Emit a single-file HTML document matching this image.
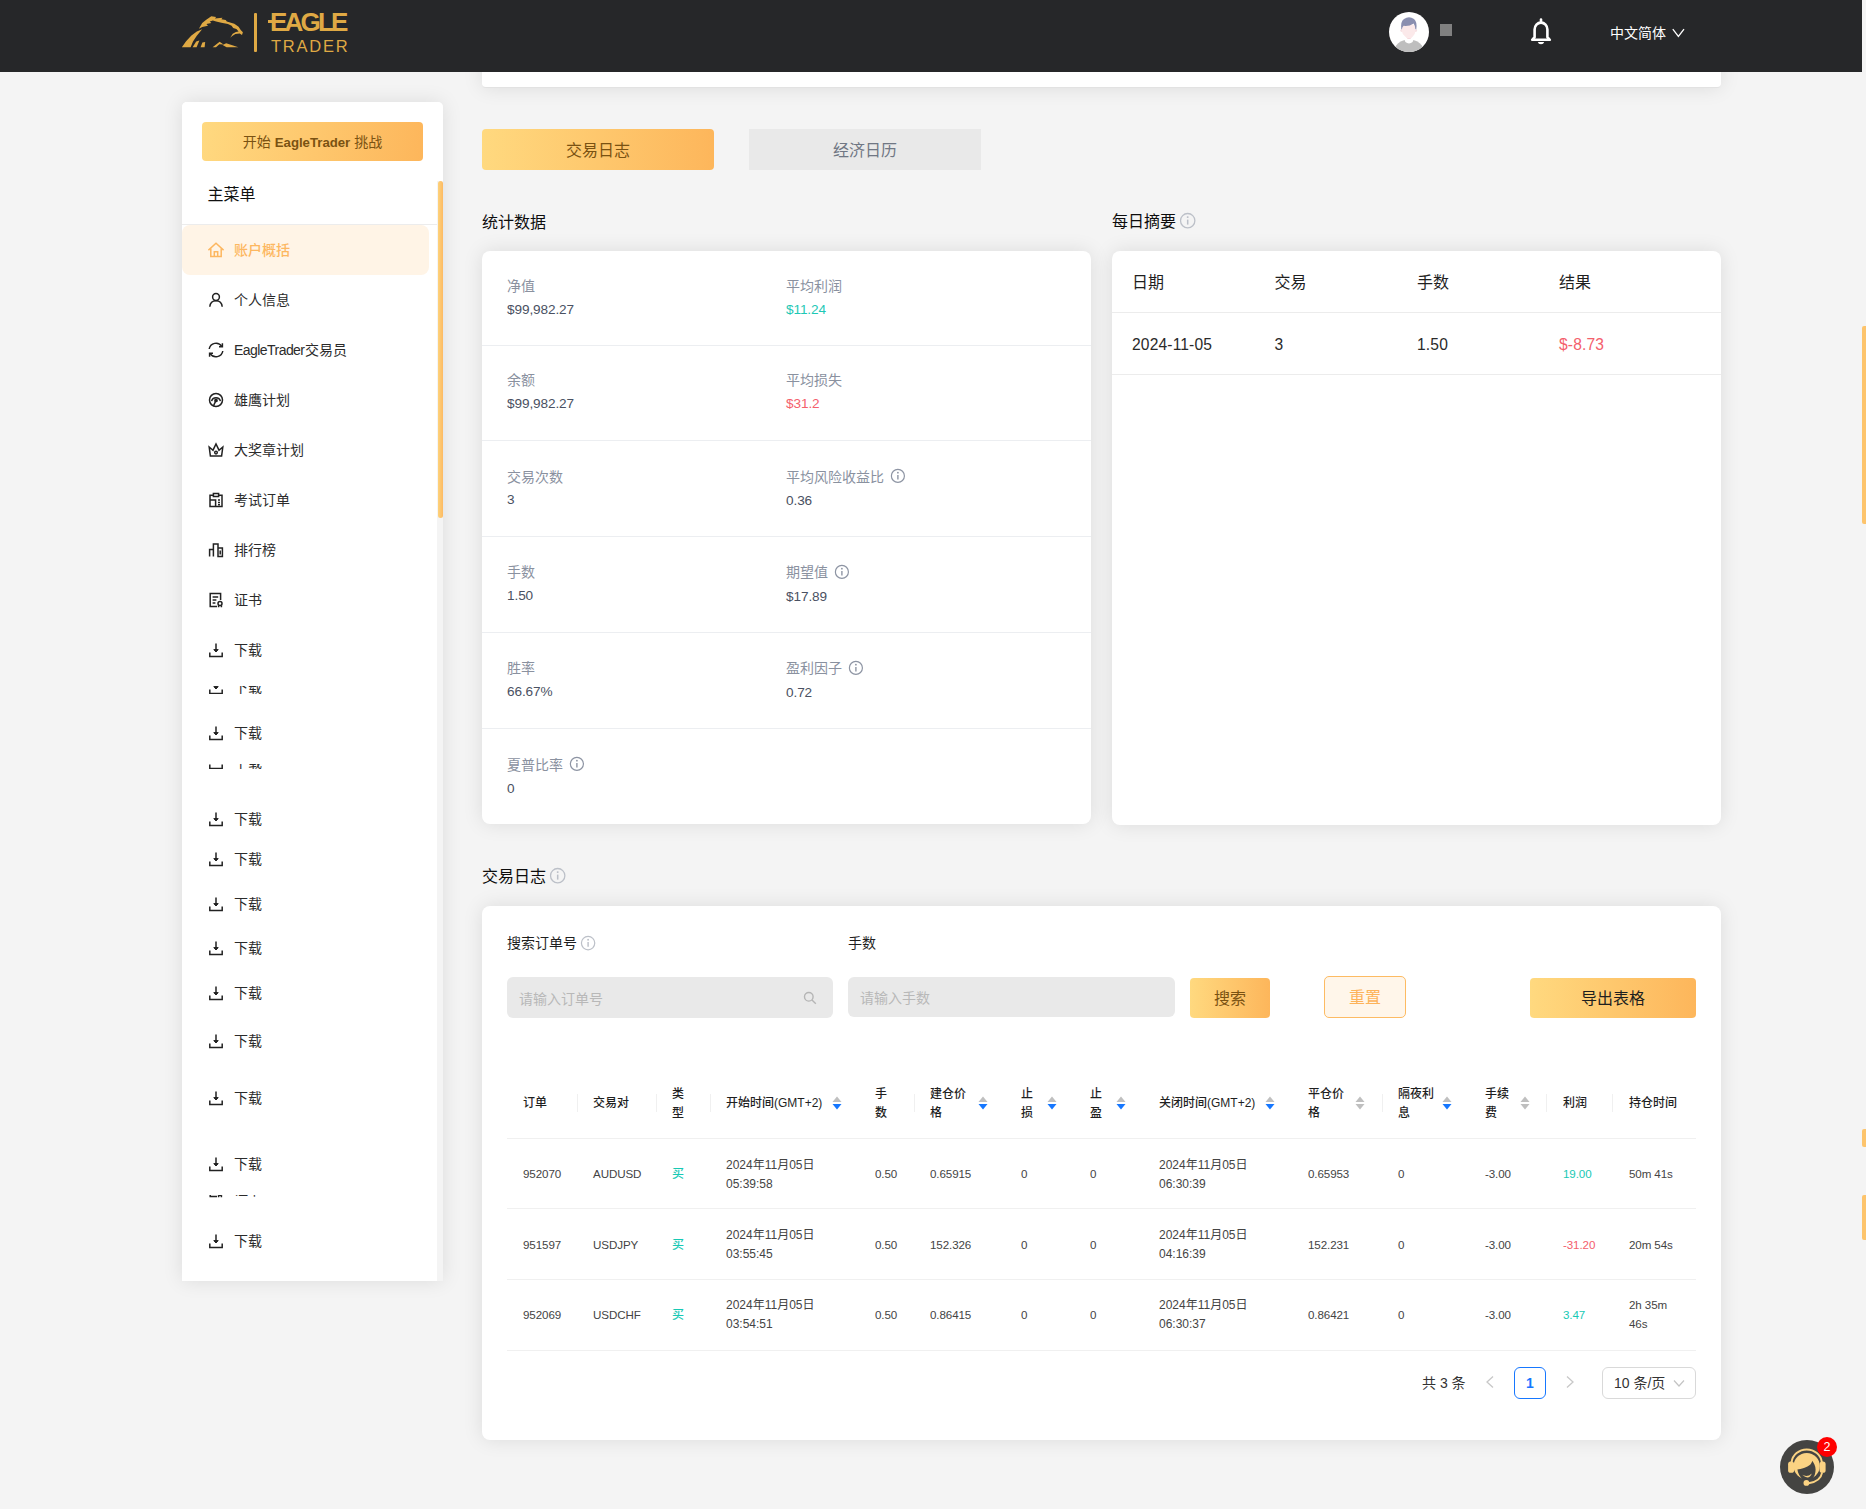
<!DOCTYPE html>
<html lang="zh-CN">
<head>
<meta charset="utf-8">
<title>EagleTrader</title>
<style>
*{box-sizing:border-box;margin:0;padding:0}
html,body{width:1866px;height:1509px;overflow:hidden}
body{position:relative;background:#f4f4f4;font-family:"Liberation Sans","Noto Sans CJK SC",sans-serif;font-size:14px;color:#333;-webkit-font-smoothing:antialiased}
.abs{position:absolute}
/* header */
#hdr{position:absolute;left:0;top:0;width:1862px;height:72px;background:#262729}
#hdr .lang{position:absolute;left:1610px;top:23px;height:20px;line-height:20px;color:#fff;font-size:14px;white-space:nowrap}
/* cards */
.card{position:absolute;background:#fff;border-radius:8px;box-shadow:0 0 20px rgba(0,0,0,.1)}
.h16{position:absolute;font-size:16px;line-height:24px;color:#0d0d0d;white-space:nowrap}
.info{display:inline-block;vertical-align:middle;color:#b3b8c2}

#side{position:absolute;left:182px;top:102px;width:261px;height:1179px}
#side .sidebg{position:absolute;left:0;top:0;width:261px;height:1179px;border-radius:5px 5px 0 0;box-shadow:0 0 20px rgba(0,0,0,.1);background:linear-gradient(90deg,#fff 255px,#f4f4f4 255px);}
#side .sidebg:after{content:"";position:absolute;left:0;top:0;width:261px;height:79px;background:#fff;border-radius:5px 5px 0 0}
.startbtn{position:absolute;left:20px;top:20px;width:221px;height:39px;line-height:41px;text-align:center;border-radius:4px;background:linear-gradient(100deg,#ffd980,#fdb65b);color:#7a5212;font-size:14px;white-space:nowrap}
.startbtn b{font-weight:bold;font-size:13.2px}
.m{position:absolute;left:0;width:255px;height:50px;line-height:50px;font-size:14px;color:#2b2b2b;white-space:nowrap}
.m .mi{position:absolute;left:26px;top:17px}
.m span{position:absolute;left:52px;top:0}
.m.act{color:#fdb760;font-weight:500}
.m em{font-style:normal;letter-spacing:-0.55px;margin-right:0.5px}

.tab{position:absolute;top:129px;width:232px;height:41px;line-height:44px;text-align:center;font-size:16px;white-space:nowrap}
.tab.on{background:linear-gradient(90deg,#ffd97f,#fdb65b);color:#7a5212;border-radius:4px}
.tab.off{background:#e9e9e9;color:#707784}
.srow{position:absolute;left:0;width:609px;box-sizing:content-box}
.sl{position:absolute;font-size:14px;line-height:22px;color:#8a919f;white-space:nowrap}
.sl .info{margin-left:2px;position:relative;top:-1.5px}
.sv{position:absolute;font-size:13.6px;line-height:22px;color:#4a5162;white-space:nowrap;letter-spacing:-0.1px}
.sv.g{color:#1ec8b5}.sv.r{color:#f4606c}
.drow{position:absolute;left:0;width:609px;font-size:16px;color:#1f1f1f}
.drow span{position:absolute;top:1px;line-height:62px;white-space:nowrap}
.drow span.n{letter-spacing:0.15px;color:#2a2a2a;font-size:15.6px}

.lb{font-size:14px;line-height:22px;color:#1f1f1f;white-space:nowrap}
.inp{position:absolute;background:#e9e9e9;border-radius:6px}
.inp span{position:absolute;left:12px;top:0;bottom:0;display:flex;align-items:center;font-size:14px;color:#b8b8b8;white-space:nowrap}
.btn{position:absolute;text-align:center;font-size:16px;border-radius:4px;white-space:nowrap}
.btn.gold{background:linear-gradient(90deg,#ffd97f,#fdb65b);color:#7a5212}
.btn.gold.dark{color:#1f1f1f}
.btn.ghost{background:#fff6ea;border:1px solid #fdbb63;color:#fdb35a;border-radius:5px}
.tb{border-collapse:separate;border-spacing:0;table-layout:fixed;width:1189px;font-size:12px;line-height:18.857px;color:#333}
.tb th,.tb td{padding:0 16px;text-align:left;vertical-align:middle;border-bottom:1px solid #f0f0f0;height:71px;font-weight:normal}
.tb tbody tr:first-child td{height:70px}
.tb tbody tr:last-child td{padding-top:0}
.tb th{font-weight:500;color:#1f1f1f;position:relative;padding-top:1.5px}
.tb th i{font-style:normal;font-weight:normal}
.tb th.dv:after{content:"";position:absolute;right:-1px;top:25.5px;width:1px;height:18.5px;background:#f0f0f0}
.tb th.d0:after{right:0}
.thw{display:flex;align-items:center;justify-content:space-between}
.thw .tt{flex:1 1 auto}
.sorter{flex:0 0 auto;margin-left:3px;margin-right:1px;position:relative;top:-0.5px}
.tb td{color:#444;letter-spacing:-0.1px;font-size:11.6px;padding-top:2px}
.tb td.dt{font-size:12px;letter-spacing:0}
.tb td.g{color:#17c9b4}.tb td.r{color:#f4606c}
.tb td.cn{letter-spacing:0;font-size:12px;font-weight:500}
.pg{font-size:14px;color:#333;white-space:nowrap}
/* main scrollbar bits */
.sb{position:absolute;left:1862px;width:4px;background:#fdc46c;border-radius:2px 0 0 2px}
</style>
</head>
<body>
<!-- top partial card -->
<div class="card" style="left:482px;top:60px;width:1239px;height:28px;border-radius:0 0 4px 4px;border-bottom:1px solid #e2e2e2"></div>

<!-- HEADER -->
<div id="hdr">
  <svg class="abs" style="left:182px;top:16px" width="62" height="32" viewBox="0 0 62 32" fill="#dfa944">
    <path d="M-0.2,31.2 L4.1,25.3 L9.4,19.4 L14.8,15.6 L20.2,13.2 L18.5,15.3 L14.8,19.7 L11.0,25.6 L8.6,31.2 Z"/>
    <path d="M16.9,12.8 L20.2,7.1 L23.9,3.9 L29.3,0.3 L34.1,1.0 L33.0,2.5 L40.5,1.7 L39.4,3.3 L43.7,3.9 L44.8,5.5 L52.3,7.8 L56.6,10.8 L58.7,14.0 L60.9,16.2 L60.0,18.9 L57.7,17.5 L53.4,18.1 L50.2,19.9 L48.2,21.8 L50.7,17.8 L53.9,16.0 L56.6,15.6 L54.4,13.0 L51.2,12.1 L49.6,9.8 L45.9,8.1 L39.4,6.8 L34.1,5.5 L30.9,4.4 L27.7,5.5 L29.3,7.1 L24.4,8.1 L26.0,9.8 L20.2,11.0 Z"/>
    <path d="M10.6,31.3 L14.2,25.4 L17.4,24.4 L14.6,31.3 Z"/>
    <path d="M18.6,31.3 L20.4,26.6 L23.2,26 L22.6,31.3 Z"/>
    <path d="M30.6,31.3 L37.6,25.8 L41.6,28.4 L37.4,28.2 L34,31.3 Z"/>
    <path d="M40.6,29 L44.2,27.2 L56.4,31.3 L44.6,31.3 Z"/>
  </svg>
  <div class="abs" style="left:254px;top:13px;width:3px;height:39px;background:#dfa944;border-radius:1px"></div>
  <div class="abs" style="left:268px;top:19.5px;width:6px;height:3px;background:#dfa944"></div>
  <div class="abs" id="lg1" style="left:270px;top:7px;height:30px;line-height:30px;font-size:26px;font-weight:bold;color:#dfa944;letter-spacing:-2.8px;white-space:nowrap">EAGLE</div>
  <div class="abs" id="lg2" style="left:271px;top:36px;height:20px;line-height:20px;font-size:16.5px;color:#dfa944;letter-spacing:1.75px;white-space:nowrap">TRADER</div>
  <svg class="abs" style="left:1389px;top:12px" width="40" height="40" viewBox="0 0 40 40">
    <defs><clipPath id="avc"><circle cx="20" cy="20" r="20"/></clipPath></defs>
    <circle cx="20" cy="20" r="20" fill="#fff"/>
    <g clip-path="url(#avc)">
      <ellipse cx="20" cy="40.2" rx="15.2" ry="12.6" fill="#bebebe"/>
      <path d="M15.7,24 V27.6 Q15.7,31.4 20,31.4 Q24.3,31.4 24.3,27.6 V24 Z" fill="#fff"/>
      <circle cx="12.7" cy="18.6" r="1.4" fill="#f6e0e3"/><circle cx="26.7" cy="18.6" r="1.4" fill="#f6e0e3"/>
      <path d="M12.9,15 Q12.9,12 20,12 Q26.4,12 26.4,15 V19 Q26.4,22 23.6,24.8 Q20,28.6 16.4,24.8 Q12.9,22 12.9,19 Z" fill="#fbe9ea"/>
      <path d="M17.4,25.4 Q20,27.4 22.6,25.4 Q20,28.8 17.4,25.4Z" fill="#f0c4cb"/>
      <path d="M12.3,17.4 Q11.4,9 15,6.9 Q20,3.8 25,6.9 Q28.4,9.5 27.3,17.4 L26.3,17 Q26.2,13.4 24.6,11.4 Q20,14.6 14.6,13.8 Q13.1,15 13,17 Z" fill="#8a8fb0"/>
    </g>
  </svg>
  <div class="abs" style="left:1440px;top:24px;width:12px;height:12px;background:#808080"></div>
  <svg class="abs" style="left:1528px;top:17px" width="26" height="29" viewBox="0 0 26 29" fill="none" stroke="#fff" stroke-width="2.6" stroke-linecap="round" stroke-linejoin="round">
    <path d="M13,2.6 v1.6"/>
    <path d="M6.6,20.2 V12.6 a6.4,7 0 0 1 12.8,0 V20.2 l2.4,2.6 H4.2 z"/>
    <path d="M9.8,25 a3.3,3 0 0 0 6.4,0 z" fill="#fff" stroke="none"/>
  </svg>
  <div class="lang">中文简体</div>
  <svg class="abs" style="left:1672px;top:28px" width="13" height="10" viewBox="0 0 13 10" fill="none" stroke="#fff" stroke-width="1.3"><path d="M0.8,1.2 L6.4,8.4 L12,1.2"/></svg>
</div>

<div id="side">
<div class="sidebg"></div>
<div class="startbtn">开始 <b>EagleTrader</b> 挑战</div>
<div class="h16" style="left:25.6px;top:81.2px;color:#111">主菜单</div>
<div class="abs" style="left:0;top:122px;width:255px;height:1px;background:#ececec"></div>
<div class="abs" style="left:0;top:122.6px;width:247px;height:50.4px;background:#fff4e6;border-radius:8px"></div>
<div class="abs" style="left:256px;top:79px;width:5px;height:337px;background:linear-gradient(90deg,#fdd27c,#fdba62);border-radius:3px"></div>
<div class="m act" style="top:123px"><svg class="mi" width="16" height="16" viewBox="0 0 16 16" fill="none" stroke="currentColor" stroke-width="1.5" stroke-linejoin="miter" style="color:#fdb760"><path d="M0.4,8.2 L8,1.2 L15.6,8.2"/><path d="M2.8,6.4 V14.6 H13.2 V6.4"/><path d="M6.3,14.6 V9.8 H9.7 V14.6"/></svg><span>账户概括</span></div>
<div class="m" style="top:173px"><svg class="mi" width="16" height="16" viewBox="0 0 16 16" fill="none" stroke="currentColor" stroke-width="1.5" stroke-linejoin="miter" style="color:#222"><circle cx="8" cy="5" r="3.4"/><path d="M1.8,14.8 C2.2,10.6 4.6,8.8 8,8.8 C11.4,8.8 13.8,10.6 14.2,14.8"/></svg><span>个人信息</span></div>
<div class="m" style="top:223px"><svg class="mi" width="16" height="16" viewBox="0 0 16 16" fill="none" stroke="currentColor" stroke-width="1.5" stroke-linejoin="miter" style="color:#222"><path d="M1.2,7 A6.9,6.9 0 0 1 13.8,4.4"/><path d="M14.8,9 A6.9,6.9 0 0 1 2.2,11.6"/><path d="M14.4,1.2 V4.7 H11" /><path d="M1.6,14.8 V11.3 H5"/></svg><span><em>EagleTrader</em>交易员</span></div>
<div class="m" style="top:273px"><svg class="mi" width="16" height="16" viewBox="0 0 16 16" fill="none" stroke="currentColor" stroke-width="1.5" stroke-linejoin="miter" style="color:#222"><circle cx="8" cy="8" r="6.5"/><path d="M3.6,9.2 A4.5,4.5 0 0 1 12.4,9.2"/><path d="M8,8.4 L5.4,14"/><circle cx="8" cy="8.4" r="1.1" fill="currentColor"/></svg><span>雄鹰计划</span></div>
<div class="m" style="top:323px"><svg class="mi" width="16" height="16" viewBox="0 0 16 16" fill="none" stroke="currentColor" stroke-width="1.5" stroke-linejoin="miter" style="color:#222"><path d="M2.4,14 H13.6 L14.8,5 L11,8.2 L8,2 L5,8.2 L1.2,5 Z"/><circle cx="8" cy="10.6" r="1.3"/></svg><span>大奖章计划</span></div>
<div class="m" style="top:373px"><svg class="mi" width="16" height="16" viewBox="0 0 16 16" fill="none" stroke="currentColor" stroke-width="1.5" stroke-linejoin="miter" style="color:#222"><path d="M5,3.2 H2 V14.6 H14 V3.2 H11"/><path d="M5.4,1.6 H10.6 V4.6 H5.4 Z"/><path d="M2,8 H7.6 V14.6"/><path d="M10,8 H12 M10,10.6 H12 M10,12.8 H12"/></svg><span>考试订单</span></div>
<div class="m" style="top:423px"><svg class="mi" width="16" height="16" viewBox="0 0 16 16" fill="none" stroke="currentColor" stroke-width="1.5" stroke-linejoin="miter" style="color:#222"><path d="M1.6,14.6 V7.4 H5.4 V14.6 M5.4,14.6 V2 H10 V14.6 M10,14.6 V6 H14.4 V14.6 Z"/><path d="M12.2,8.6 V12.4"/></svg><span>排行榜</span></div>
<div class="m" style="top:473px"><svg class="mi" width="16" height="16" viewBox="0 0 16 16" fill="none" stroke="currentColor" stroke-width="1.5" stroke-linejoin="miter" style="color:#222"><path d="M9,14.4 H2.2 V1.6 H12.6 V8"/><path d="M4.6,5 H10.2 M4.6,8 H8.4 M4.6,11 H7.4"/><circle cx="12" cy="11.4" r="2"/><path d="M10.6,13.2 V15.2 M13.4,13.2 V15.2"/></svg><span>证书</span></div>
<div class="m" style="top:523px"><svg class="mi" width="16" height="16" viewBox="0 0 16 16" fill="none" stroke="currentColor" stroke-width="1.5" stroke-linejoin="miter" style="color:#222"><path d="M1.8,10.4 V14.4 H14.2 V10.4"/><path d="M8,1.4 V9.6"/><path d="M5.8,7.6 L8,10 L10.2,7.6 Z" fill="currentColor" stroke-width="1"/></svg><span>下载</span></div>
<div class="m" style="top:606px"><svg class="mi" width="16" height="16" viewBox="0 0 16 16" fill="none" stroke="currentColor" stroke-width="1.5" stroke-linejoin="miter" style="color:#222"><path d="M1.8,10.4 V14.4 H14.2 V10.4"/><path d="M8,1.4 V9.6"/><path d="M5.8,7.6 L8,10 L10.2,7.6 Z" fill="currentColor" stroke-width="1"/></svg><span>下载</span></div>
<div class="m" style="top:692px"><svg class="mi" width="16" height="16" viewBox="0 0 16 16" fill="none" stroke="currentColor" stroke-width="1.5" stroke-linejoin="miter" style="color:#222"><path d="M1.8,10.4 V14.4 H14.2 V10.4"/><path d="M8,1.4 V9.6"/><path d="M5.8,7.6 L8,10 L10.2,7.6 Z" fill="currentColor" stroke-width="1"/></svg><span>下载</span></div>
<div class="m" style="top:732px"><svg class="mi" width="16" height="16" viewBox="0 0 16 16" fill="none" stroke="currentColor" stroke-width="1.5" stroke-linejoin="miter" style="color:#222"><path d="M1.8,10.4 V14.4 H14.2 V10.4"/><path d="M8,1.4 V9.6"/><path d="M5.8,7.6 L8,10 L10.2,7.6 Z" fill="currentColor" stroke-width="1"/></svg><span>下载</span></div>
<div class="m" style="top:777px"><svg class="mi" width="16" height="16" viewBox="0 0 16 16" fill="none" stroke="currentColor" stroke-width="1.5" stroke-linejoin="miter" style="color:#222"><path d="M1.8,10.4 V14.4 H14.2 V10.4"/><path d="M8,1.4 V9.6"/><path d="M5.8,7.6 L8,10 L10.2,7.6 Z" fill="currentColor" stroke-width="1"/></svg><span>下载</span></div>
<div class="m" style="top:821px"><svg class="mi" width="16" height="16" viewBox="0 0 16 16" fill="none" stroke="currentColor" stroke-width="1.5" stroke-linejoin="miter" style="color:#222"><path d="M1.8,10.4 V14.4 H14.2 V10.4"/><path d="M8,1.4 V9.6"/><path d="M5.8,7.6 L8,10 L10.2,7.6 Z" fill="currentColor" stroke-width="1"/></svg><span>下载</span></div>
<div class="m" style="top:866px"><svg class="mi" width="16" height="16" viewBox="0 0 16 16" fill="none" stroke="currentColor" stroke-width="1.5" stroke-linejoin="miter" style="color:#222"><path d="M1.8,10.4 V14.4 H14.2 V10.4"/><path d="M8,1.4 V9.6"/><path d="M5.8,7.6 L8,10 L10.2,7.6 Z" fill="currentColor" stroke-width="1"/></svg><span>下载</span></div>
<div class="m" style="top:914px"><svg class="mi" width="16" height="16" viewBox="0 0 16 16" fill="none" stroke="currentColor" stroke-width="1.5" stroke-linejoin="miter" style="color:#222"><path d="M1.8,10.4 V14.4 H14.2 V10.4"/><path d="M8,1.4 V9.6"/><path d="M5.8,7.6 L8,10 L10.2,7.6 Z" fill="currentColor" stroke-width="1"/></svg><span>下载</span></div>
<div class="m" style="top:971px"><svg class="mi" width="16" height="16" viewBox="0 0 16 16" fill="none" stroke="currentColor" stroke-width="1.5" stroke-linejoin="miter" style="color:#222"><path d="M1.8,10.4 V14.4 H14.2 V10.4"/><path d="M8,1.4 V9.6"/><path d="M5.8,7.6 L8,10 L10.2,7.6 Z" fill="currentColor" stroke-width="1"/></svg><span>下载</span></div>
<div class="m" style="top:1037px"><svg class="mi" width="16" height="16" viewBox="0 0 16 16" fill="none" stroke="currentColor" stroke-width="1.5" stroke-linejoin="miter" style="color:#222"><path d="M1.8,10.4 V14.4 H14.2 V10.4"/><path d="M8,1.4 V9.6"/><path d="M5.8,7.6 L8,10 L10.2,7.6 Z" fill="currentColor" stroke-width="1"/></svg><span>下载</span></div>
<div class="m" style="top:1114px"><svg class="mi" width="16" height="16" viewBox="0 0 16 16" fill="none" stroke="currentColor" stroke-width="1.5" stroke-linejoin="miter" style="color:#222"><path d="M1.8,10.4 V14.4 H14.2 V10.4"/><path d="M8,1.4 V9.6"/><path d="M5.8,7.6 L8,10 L10.2,7.6 Z" fill="currentColor" stroke-width="1"/></svg><span>下载</span></div>
<div class="abs" style="left:0;top:584px;width:255px;height:8px;overflow:hidden"><div class="m" style="top:-24px"><svg class="mi" width="16" height="16" viewBox="0 0 16 16" fill="none" stroke="currentColor" stroke-width="1.5" stroke-linejoin="miter" style="color:#222"><path d="M1.8,10.4 V14.4 H14.2 V10.4"/><path d="M8,1.4 V9.6"/><path d="M5.8,7.6 L8,10 L10.2,7.6 Z" fill="currentColor" stroke-width="1"/></svg><span>下载</span></div></div>
<div class="abs" style="left:0;top:662px;width:255px;height:5px;overflow:hidden"><div class="m" style="top:-26.600000000000023px"><svg class="mi" width="16" height="16" viewBox="0 0 16 16" fill="none" stroke="currentColor" stroke-width="1.5" stroke-linejoin="miter" style="color:#222"><path d="M1.8,10.4 V14.4 H14.2 V10.4"/><path d="M8,1.4 V9.6"/><path d="M5.8,7.6 L8,10 L10.2,7.6 Z" fill="currentColor" stroke-width="1"/></svg><span>下载</span></div></div>
<div class="abs" style="left:0;top:1092.6px;width:255px;height:3.400000000000091px;overflow:hidden"><div class="m" style="top:-30.0px"><svg class="mi" width="16" height="16" viewBox="0 0 16 16" fill="none" stroke="currentColor" stroke-width="1.5" stroke-linejoin="miter" style="color:#222"><path d="M9,14.4 H2.2 V1.6 H12.6 V8"/><path d="M4.6,5 H10.2 M4.6,8 H8.4 M4.6,11 H7.4"/><circle cx="12" cy="11.4" r="2"/><path d="M10.6,13.2 V15.2 M13.4,13.2 V15.2"/></svg><span>证书</span></div></div>
</div>

<div class="tab on" style="left:482px">交易日志</div>
<div class="tab off" style="left:749px">经济日历</div>
<div class="h16" style="left:482px;top:210.6px">统计数据</div>
<div class="h16" style="left:1112px;top:210px">每日摘要 <span style="position:relative;top:-2px;left:-1px"><svg class="info" width="17.4" height="17.4" viewBox="0 0 16 16" fill="none" stroke="#bcc0c8" stroke-width="1.2"><circle cx="8" cy="8" r="6.6"/><path d="M8,7 V11.6" stroke-width="1.4"/><circle cx="8" cy="4.7" r="0.9" fill="#b9bdc6" stroke="none"/></svg></span></div>
<div class="h16" style="left:482px;top:865px">交易日志 <span style="position:relative;top:-2px;left:-1px"><svg class="info" width="17.4" height="17.4" viewBox="0 0 16 16" fill="none" stroke="#bcc0c8" stroke-width="1.2"><circle cx="8" cy="8" r="6.6"/><path d="M8,7 V11.6" stroke-width="1.4"/><circle cx="8" cy="4.7" r="0.9" fill="#b9bdc6" stroke="none"/></svg></span></div>

<div class="card" style="left:482px;top:251px;width:609px;height:573px">
<div class="srow" style="top:0px;height:94.3px;border-bottom:1px solid #eceef1;">
<div class="sl" style="left:25px;top:24px">净值</div><div class="sv " style="left:25px;top:48px">$99,982.27</div>
<div class="sl" style="left:304px;top:24px">平均利润</div><div class="sv g" style="left:304px;top:48px">$11.24</div>
</div>
<div class="srow" style="top:94.30000000000001px;height:95.2px;border-bottom:1px solid #eceef1;">
<div class="sl" style="left:25px;top:24px">余额</div><div class="sv " style="left:25px;top:48px">$99,982.27</div>
<div class="sl" style="left:304px;top:24px">平均损失</div><div class="sv r" style="left:304px;top:48px">$31.2</div>
</div>
<div class="srow" style="top:189.5px;height:95.9px;border-bottom:1px solid #eceef1;">
<div class="sl" style="left:25px;top:25px">交易次数</div><div class="sv " style="left:25px;top:48.5px">3</div>
<div class="sl" style="left:304px;top:25px">平均风险收益比 <svg class="info" width="15.8" height="15.8" viewBox="0 0 16 16" fill="none" stroke="#8d94a3" stroke-width="1.2"><circle cx="8" cy="8" r="6.6"/><path d="M8,7 V11.6" stroke-width="1.4"/><circle cx="8" cy="4.7" r="0.9" fill="#8d94a3" stroke="none"/></svg></div><div class="sv " style="left:304px;top:49.5px">0.36</div>
</div>
<div class="srow" style="top:285.4px;height:95.9px;border-bottom:1px solid #eceef1;">
<div class="sl" style="left:25px;top:25px">手数</div><div class="sv " style="left:25px;top:48.5px">1.50</div>
<div class="sl" style="left:304px;top:25px">期望值 <svg class="info" width="15.8" height="15.8" viewBox="0 0 16 16" fill="none" stroke="#8d94a3" stroke-width="1.2"><circle cx="8" cy="8" r="6.6"/><path d="M8,7 V11.6" stroke-width="1.4"/><circle cx="8" cy="4.7" r="0.9" fill="#8d94a3" stroke="none"/></svg></div><div class="sv " style="left:304px;top:49.5px">$17.89</div>
</div>
<div class="srow" style="top:381.29999999999995px;height:96.2px;border-bottom:1px solid #eceef1;">
<div class="sl" style="left:25px;top:25px">胜率</div><div class="sv " style="left:25px;top:48.5px">66.67%</div>
<div class="sl" style="left:304px;top:25px">盈利因子 <svg class="info" width="15.8" height="15.8" viewBox="0 0 16 16" fill="none" stroke="#8d94a3" stroke-width="1.2"><circle cx="8" cy="8" r="6.6"/><path d="M8,7 V11.6" stroke-width="1.4"/><circle cx="8" cy="4.7" r="0.9" fill="#8d94a3" stroke="none"/></svg></div><div class="sv " style="left:304px;top:49.5px">0.72</div>
</div>
<div class="srow" style="top:477.5px;height:95.3px;">
<div class="sl" style="left:25px;top:25px">夏普比率 <svg class="info" width="15.8" height="15.8" viewBox="0 0 16 16" fill="none" stroke="#8d94a3" stroke-width="1.2"><circle cx="8" cy="8" r="6.6"/><path d="M8,7 V11.6" stroke-width="1.4"/><circle cx="8" cy="4.7" r="0.9" fill="#8d94a3" stroke="none"/></svg></div><div class="sv " style="left:25px;top:49.5px">0</div>
</div>
</div>

<div class="card" style="left:1112px;top:251px;width:609px;height:574px">
<div class="drow" style="top:0;height:61.5px;border-bottom:1px solid #ececec"><span style="left:20px">日期</span><span style="left:162.5px">交易</span><span style="left:305px">手数</span><span style="left:447px">结果</span></div>
<div class="drow" style="top:61.5px;height:62px;border-bottom:1px solid #ececec"><span style="left:20px" class="n">2024-11-05</span><span style="left:162.5px" class="n">3</span><span style="left:305px" class="n">1.50</span><span style="left:447px;color:#f4606c" class="n">$-8.73</span></div>
</div>

<div class="card" style="left:482px;top:906px;width:1239px;height:534px">
<div class="abs lb" style="left:25px;top:26px">搜索订单号 <span style="position:relative;top:-1.5px;left:-1px"><svg class="info" width="16.2" height="16.2" viewBox="0 0 16 16" fill="none" stroke="#bcc0c8" stroke-width="1.2"><circle cx="8" cy="8" r="6.6"/><path d="M8,7 V11.6" stroke-width="1.4"/><circle cx="8" cy="4.7" r="0.9" fill="#b9bdc6" stroke="none"/></svg></span></div>
<div class="abs lb" style="left:366px;top:26px">手数</div>
<div class="inp" style="left:25px;top:71px;width:326px;height:41px"><span>请输入订单号</span>
<svg class="abs" style="left:296px;top:13.6px" width="14" height="14" viewBox="0 0 14 14" fill="none" stroke="#b5b5b5" stroke-width="1.4"><circle cx="5.8" cy="5.8" r="4.3"/><path d="M9,9 L12.8,12.8"/></svg></div>
<div class="inp" style="left:366px;top:71px;width:327px;height:40px"><span>请输入手数</span></div>
<div class="btn gold" style="left:708px;top:72px;width:80px;height:40px;line-height:42px">搜索</div>
<div class="btn ghost" style="left:842px;top:70px;width:82px;height:42px;line-height:42px">重置</div>
<div class="btn gold dark" style="left:1048px;top:72px;width:166px;height:40px;line-height:42px">导出表格</div>
<div class="abs" style="left:25px;top:162px;width:1189px"><table class="tb"><colgroup><col style="width:70px"><col style="width:79px"><col style="width:54px"><col style="width:149px"><col style="width:55px"><col style="width:91px"><col style="width:69px"><col style="width:69px"><col style="width:149px"><col style="width:90px"><col style="width:87px"><col style="width:78px"><col style="width:66px"><col style="width:83px"></colgroup><thead><tr><th class="dv"><div class="thw"><span class="tt">订单</span></div></th><th class="dv"><div class="thw"><span class="tt">交易对</span></div></th><th class="dv"><div class="thw"><span class="tt">类<br>型</span></div></th><th class=""><div class="thw"><span class="tt">开始时间<i>(GMT+2)</i></span><svg class="sorter" width="10" height="14" viewBox="0 0 10 14"><path d="M5,0.5 L9.5,6 H0.5 Z" fill="#bfbfbf"/><path d="M5,13.5 L9.5,8 H0.5 Z" fill="#1677ff"/></svg></div></th><th class="dv"><div class="thw"><span class="tt">手<br>数</span></div></th><th class=""><div class="thw"><span class="tt">建仓价<br>格</span><svg class="sorter" width="10" height="14" viewBox="0 0 10 14"><path d="M5,0.5 L9.5,6 H0.5 Z" fill="#bfbfbf"/><path d="M5,13.5 L9.5,8 H0.5 Z" fill="#1677ff"/></svg></div></th><th class=""><div class="thw"><span class="tt">止<br>损</span><svg class="sorter" width="10" height="14" viewBox="0 0 10 14"><path d="M5,0.5 L9.5,6 H0.5 Z" fill="#bfbfbf"/><path d="M5,13.5 L9.5,8 H0.5 Z" fill="#1677ff"/></svg></div></th><th class=""><div class="thw"><span class="tt">止<br>盈</span><svg class="sorter" width="10" height="14" viewBox="0 0 10 14"><path d="M5,0.5 L9.5,6 H0.5 Z" fill="#bfbfbf"/><path d="M5,13.5 L9.5,8 H0.5 Z" fill="#1677ff"/></svg></div></th><th class=""><div class="thw"><span class="tt">关闭时间<i>(GMT+2)</i></span><svg class="sorter" width="10" height="14" viewBox="0 0 10 14"><path d="M5,0.5 L9.5,6 H0.5 Z" fill="#bfbfbf"/><path d="M5,13.5 L9.5,8 H0.5 Z" fill="#1677ff"/></svg></div></th><th class="dv"><div class="thw"><span class="tt">平仓价<br>格</span><svg class="sorter" width="10" height="14" viewBox="0 0 10 14"><path d="M5,0.5 L9.5,6 H0.5 Z" fill="#bfbfbf"/><path d="M5,13.5 L9.5,8 H0.5 Z" fill="#bfbfbf"/></svg></div></th><th class=""><div class="thw"><span class="tt">隔夜利<br>息</span><svg class="sorter" width="10" height="14" viewBox="0 0 10 14"><path d="M5,0.5 L9.5,6 H0.5 Z" fill="#bfbfbf"/><path d="M5,13.5 L9.5,8 H0.5 Z" fill="#1677ff"/></svg></div></th><th class="dv d0"><div class="thw"><span class="tt">手续<br>费</span><svg class="sorter" width="10" height="14" viewBox="0 0 10 14"><path d="M5,0.5 L9.5,6 H0.5 Z" fill="#bfbfbf"/><path d="M5,13.5 L9.5,8 H0.5 Z" fill="#bfbfbf"/></svg></div></th><th class="dv d0"><div class="thw"><span class="tt">利润</span></div></th><th class=""><div class="thw"><span class="tt">持仓时间</span></div></th></tr></thead><tbody><tr><td class="">952070</td><td class="">AUDUSD</td><td class="g cn">买</td><td class="dt">2024年11月05日<br>05:39:58</td><td class="">0.50</td><td class="">0.65915</td><td class="">0</td><td class="">0</td><td class="dt">2024年11月05日<br>06:30:39</td><td class="">0.65953</td><td class="">0</td><td class="">-3.00</td><td class="g">19.00</td><td class="">50m 41s</td></tr><tr><td class="">951597</td><td class="">USDJPY</td><td class="g cn">买</td><td class="dt">2024年11月05日<br>03:55:45</td><td class="">0.50</td><td class="">152.326</td><td class="">0</td><td class="">0</td><td class="dt">2024年11月05日<br>04:16:39</td><td class="">152.231</td><td class="">0</td><td class="">-3.00</td><td class="r">-31.20</td><td class="">20m 54s</td></tr><tr><td class="">952069</td><td class="">USDCHF</td><td class="g cn">买</td><td class="dt">2024年11月05日<br>03:54:51</td><td class="">0.50</td><td class="">0.86415</td><td class="">0</td><td class="">0</td><td class="dt">2024年11月05日<br>06:30:37</td><td class="">0.86421</td><td class="">0</td><td class="">-3.00</td><td class="g">3.47</td><td class="">2h 35m<br>46s</td></tr></tbody></table></div>
<div class="abs pg" style="left:940px;top:461px;width:60px;height:32px;line-height:32px">共 3 条</div>
<svg class="abs" style="left:1003px;top:469px" width="10" height="14" viewBox="0 0 10 14" fill="none" stroke="#c8c8c8" stroke-width="1.3"><path d="M8,1.5 L2,7 L8,12.5"/></svg>
<div class="abs" style="left:1032px;top:461px;width:32px;height:32px;line-height:30px;border:1px solid #1677ff;border-radius:6px;text-align:center;color:#1677ff;font-weight:bold;font-size:14px;background:#fff">1</div>
<svg class="abs" style="left:1083px;top:469px" width="10" height="14" viewBox="0 0 10 14" fill="none" stroke="#c8c8c8" stroke-width="1.3"><path d="M2,1.5 L8,7 L2,12.5"/></svg>
<div class="abs pg" style="left:1120px;top:461px;width:94px;height:32px;line-height:30px;border:1px solid #d9d9d9;border-radius:6px;padding-left:11px">10 条/页
<svg class="abs" style="left:70px;top:10.5px" width="12" height="9" viewBox="0 0 12 9" fill="none" stroke="#c4c4c4" stroke-width="1.2"><path d="M1,1.5 L6,7 L11,1.5"/></svg></div>
</div>

<svg class="abs" style="left:1780px;top:1440px" width="54" height="54" viewBox="0 0 54 54">
  <circle cx="27" cy="27" r="27" fill="#444442"/>
  <g fill="#fbd383">
    <circle cx="26.7" cy="26" r="13.1"/>
    <rect x="8.1" y="21.6" width="6" height="11.2" rx="2.6"/>
    <rect x="39.6" y="21.6" width="6" height="11.2" rx="2.6"/>
  </g>
  <path d="M11.6,22.2 A15.2,14.4 0 0 1 41.8,22.2" fill="none" stroke="#fbd383" stroke-width="2"/>
  <path d="M17.4,29.6 C21,28.6 27,27.6 30.4,24.4 C31.5,23.2 32,22 32.3,20.8 C34,23.5 35.6,26 35.6,29.4 C35.6,33 34.5,36 33.2,37.8 L31,40 L23,40 C20,37 17.8,33.5 17.4,29.6 Z" fill="#444442"/>
  <path d="M22.2,34.8 Q27.4,37.6 31.8,33.4 Q29,40.6 22.2,34.8 Z" fill="#fbd383"/>
  <path d="M42.2,32.4 C41,39 35.4,42.4 28.6,43.2" fill="none" stroke="#fbd383" stroke-width="1.9"/>
  <circle cx="26.4" cy="42.9" r="2.9" fill="#fbd383"/>
</svg>
<div class="abs" style="left:1817px;top:1437px;width:20px;height:20px;border-radius:10px;background:#ff0000;color:#fff;font-size:12.5px;line-height:20px;text-align:center">2</div>
<div class="sb" style="top:326px;height:198px"></div>
<div class="sb" style="top:1129px;height:18px"></div>
<div class="sb" style="top:1195px;height:45px"></div>
</body>
</html>
